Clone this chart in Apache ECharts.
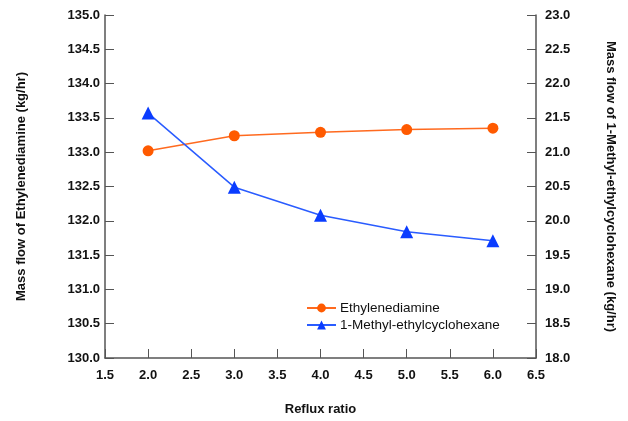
<!DOCTYPE html>
<html>
<head>
<meta charset="utf-8">
<script src="https://cdn.jsdelivr.net/npm/echarts@6/dist/echarts.min.js"></script>
<style>
  html, body { margin: 0; padding: 0; background: #fff; }
  #chart { width: 628px; height: 421px; }
</style>
</head>
<body>
<div id="chart"></div>
<script>
// reflux ratio on x, two mass flows on separate y axes
const refluxRatio = [2.0, 3.0, 4.0, 5.0, 6.0]
const ethylenediamine = [133.02, 133.24, 133.29, 133.33, 133.35]
const methylEthylCyclohexane = [21.57, 20.49, 20.08, 19.84, 19.71]

const axisColor = '#555'
const labelFont = { color: '#111', fontFamily: 'Liberation Sans, Arial', fontWeight: 'bold', fontSize: 13 }
const titleFont = { color: '#111', fontFamily: 'Liberation Sans, Arial', fontWeight: 'bold', fontSize: 13 }

const chart = echarts.init(document.getElementById('chart'))

chart.setOption({
  animation: false,
  grid: { left: 105, right: 92, top: 15, bottom: 62 },
  legend: {
    orient: 'vertical',
    left: 301,
    top: 296,
    itemWidth: 29,
    itemHeight: 11,
    itemGap: 3,
    textStyle: { fontFamily: 'Liberation Sans, Arial', fontSize: 13.5, color: '#111', padding: [0, 0, 0, -1] },
    data: ['Ethylenediamine', '1-Methyl-ethylcyclohexane']
  },
  xAxis: {
    type: 'value',
    min: 1.5,
    max: 6.5,
    interval: 0.5,
    name: 'Reflux ratio',
    nameLocation: 'middle',
    nameGap: 45,
    nameTextStyle: titleFont,
    axisLine: { onZero: false, lineStyle: { color: axisColor, width: 1.5 } },
    axisTick: { inside: true, length: 9, lineStyle: { color: axisColor } },
    axisLabel: Object.assign({ margin: 11, formatter: v => v.toFixed(1) }, labelFont),
    splitLine: { show: false }
  },
  yAxis: [
    {
      type: 'value',
      min: 130,
      max: 135,
      interval: 0.5,
      name: 'Mass flow of Ethylenediamine (kg/hr)',
      nameLocation: 'middle',
      nameGap: 77,
      nameTextStyle: titleFont,
      axisLine: { show: true, lineStyle: { color: axisColor, width: 1.5 } },
      axisTick: { inside: true, length: 9, lineStyle: { color: axisColor } },
      axisLabel: Object.assign({ margin: 5, formatter: v => v.toFixed(1) }, labelFont),
      splitLine: { show: false }
    },
    {
      type: 'value',
      position: 'right',
      min: 18,
      max: 23,
      interval: 0.5,
      name: 'Mass flow of 1-Methyl-ethylcyclohexane (kg/hr)',
      nameLocation: 'middle',
      nameRotate: -90,
      nameGap: 68,
      nameTextStyle: titleFont,
      axisLine: { show: true, lineStyle: { color: axisColor, width: 1.5 } },
      axisTick: { inside: true, length: 9, lineStyle: { color: axisColor } },
      axisLabel: Object.assign({ margin: 9, formatter: v => v.toFixed(1) }, labelFont),
      splitLine: { show: false }
    }
  ],
  series: [
    {
      name: 'Ethylenediamine',
      type: 'line',
      yAxisIndex: 0,
      data: refluxRatio.map((x, i) => [x, ethylenediamine[i]]),
      symbol: 'circle',
      symbolSize: 11,
      lineStyle: { color: '#ff6a1f', width: 1.5 },
      itemStyle: { color: '#ff5a00' }
    },
    {
      name: '1-Methyl-ethylcyclohexane',
      type: 'line',
      yAxisIndex: 1,
      data: refluxRatio.map((x, i) => [x, methylEthylCyclohexane[i]]),
      symbol: 'triangle',
      symbolSize: 13,
      lineStyle: { color: '#2a5cff', width: 1.5 },
      itemStyle: { color: '#0a3cff' }
    }
  ]
})
</script>
</body>
</html>
